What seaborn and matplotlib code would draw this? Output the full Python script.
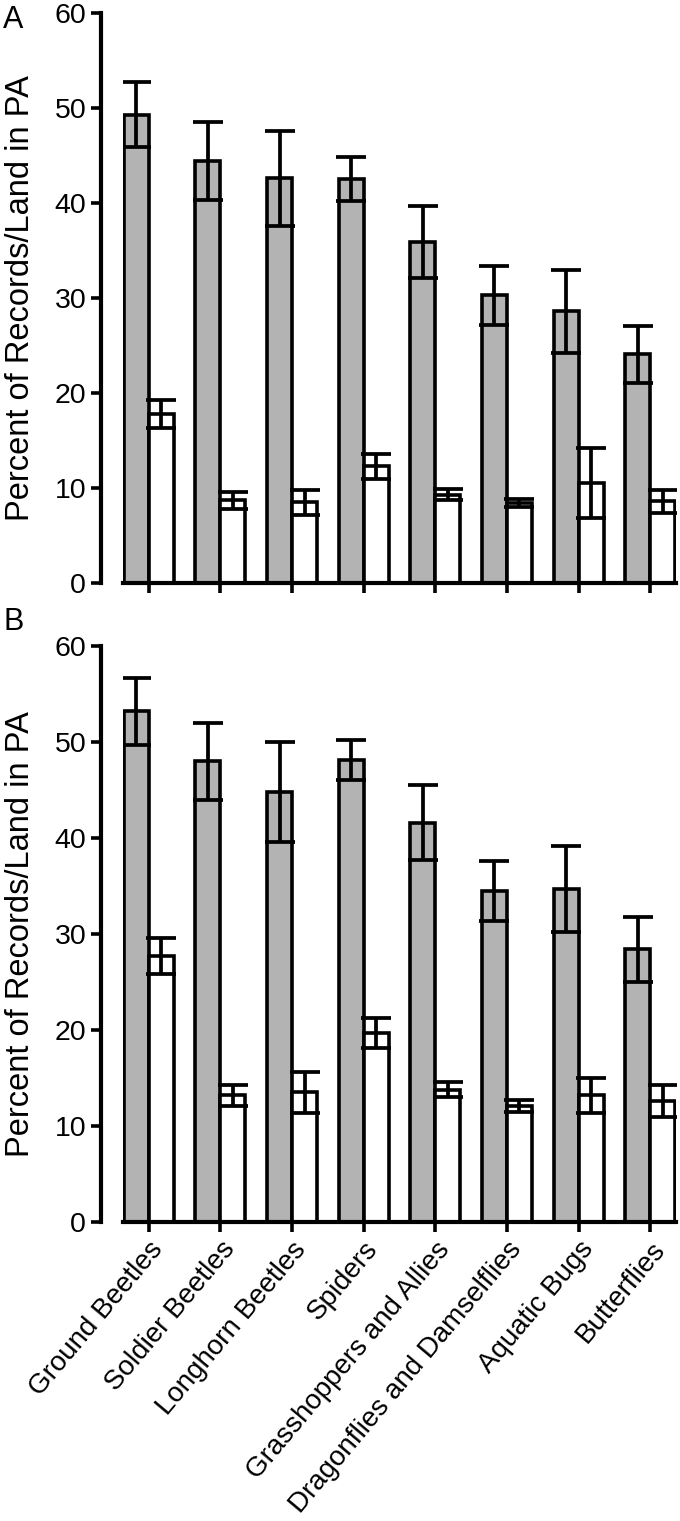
import numpy as np
import pandas as pd
import matplotlib
matplotlib.use("Agg")
import matplotlib.pyplot as plt
import seaborn as sns

categories = ["Ground Beetles", "Soldier Beetles", "Longhorn Beetles", "Spiders",
              "Grasshoppers and Allies", "Dragonflies and Damselflies",
              "Aquatic Bugs", "Butterflies"]
groups = ["Records", "Land"]

# Panel A
a_records = [49.3, 44.4, 42.6, 42.5, 35.9, 30.3, 28.6, 24.1]
a_records_err = [3.4, 4.1, 5.0, 2.3, 3.8, 3.1, 4.4, 3.0]
a_land = [17.8, 8.7, 8.5, 12.3, 9.3, 8.4, 10.5, 8.6]
a_land_err = [1.5, 0.9, 1.3, 1.3, 0.6, 0.4, 3.7, 1.2]

# Panel B
b_records = [53.2, 48.0, 44.8, 48.1, 41.6, 34.5, 34.7, 28.4]
b_records_err = [3.5, 4.0, 5.2, 2.1, 3.9, 3.1, 4.5, 3.4]
b_land = [27.7, 13.2, 13.5, 19.7, 13.8, 12.1, 13.2, 12.6]
b_land_err = [1.9, 1.1, 2.1, 1.6, 0.8, 0.6, 1.8, 1.7]

yticks = [0, 10, 20, 30, 40, 50, 60]
ylabel = "Percent of Records/Land in PA"

sns.set_theme(style="ticks")
plt.rcParams["font.family"] = ["Liberation Sans", "DejaVu Sans"]

fig = plt.figure(figsize=(6.8, 15.21), dpi=100)
W, H = 680.0, 1521.0

def make_ax(top_px, bottom_px):
    left = 123 / W
    width = (676 - 123) / W
    bottom = 1 - bottom_px / H
    height = (bottom_px - top_px) / H
    return fig.add_axes([left, bottom, width, height])

axA = make_ax(13, 583)
axB = make_ax(646, 1222)

def draw(ax, rec, rec_err, land, land_err, show_labels):
    df = pd.DataFrame({
        "category": categories * 2,
        "group": [groups[0]] * len(categories) + [groups[1]] * len(categories),
        "value": list(rec) + list(land),
    })
    sns.barplot(data=df, x="category", y="value", hue="group",
                order=categories, hue_order=groups,
                palette=["#b3b3b3", "#ffffff"], saturation=1,
                edgecolor="black", linewidth=2.6, width=0.7,
                errorbar=None, legend=False, ax=ax, zorder=2)
    for cont, errs in zip(ax.containers, [rec_err, land_err]):
        for bar, e in zip(cont, errs):
            x = bar.get_x() + bar.get_width() / 2
            y = bar.get_height()
            ax.errorbar(x, y, yerr=e, fmt="none", ecolor="black",
                        elinewidth=2.7, capsize=11, capthick=2.7, zorder=4)
    ax.set_ylim(0, 60)
    ax.set_xlim(-0.36, 7.36)
    ax.set_yticks(yticks)
    ax.set_yticklabels([str(t) for t in yticks])
    ax.set_ylabel(ylabel, fontsize=23.5, color="black")
    ax.yaxis.set_label_coords(-0.158, 0.5)
    ax.set_xlabel("")
    for s in ["top", "right"]:
        ax.spines[s].set_visible(False)
    for s in ["left", "bottom"]:
        ax.spines[s].set_linewidth(3)
        ax.spines[s].set_color("black")
    ax.spines["left"].set_position(("outward", 16))
    ax.tick_params(axis="both", direction="out", length=7.5, width=2.6,
                   color="black", labelcolor="black", pad=3, labelsize=20.5)
    ax.set_xticks(range(len(categories)))
    if show_labels:
        ax.set_xticklabels(categories, rotation=50, ha="right",
                           rotation_mode="anchor", fontsize=20)
    else:
        ax.set_xticklabels([])
    ax.set_facecolor("white")

draw(axA, a_records, a_records_err, a_land, a_land_err, False)
draw(axB, b_records, b_records_err, b_land, b_land_err, True)

fig.text(3 / W, 1 - 28 / H, "A", fontsize=22, color="black")
fig.text(3 / W, 1 - 630 / H, "B", fontsize=22, color="black")

fig.savefig("out.png", dpi=100, facecolor="white")
